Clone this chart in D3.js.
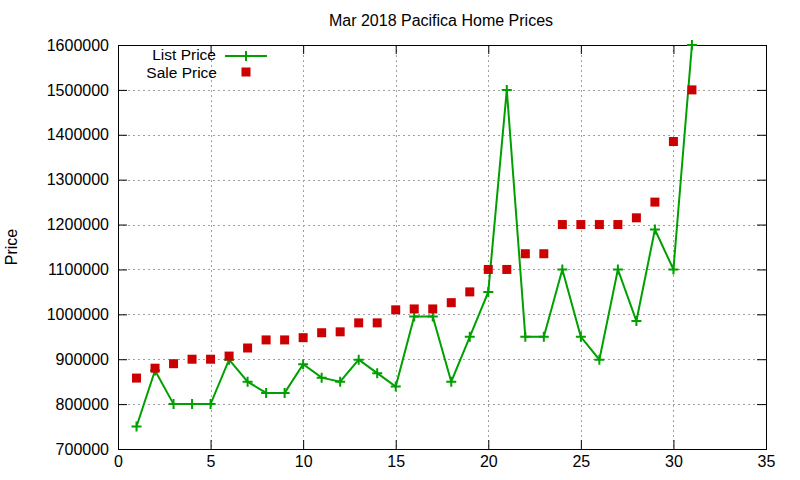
<!DOCTYPE html>
<html><head><meta charset="utf-8">
<script src="https://cdn.jsdelivr.net/npm/d3@7"></script>
<style>body{margin:0;background:#fff}svg text{font-family:"Liberation Sans",Arial,sans-serif;fill:#000}</style>
</head><body><svg id="c" width="800" height="480"></svg>
<script>
const days = [1,2,3,4,5,6,7,8,9,10,11,12,13,14,15,16,17,18,19,20,21,22,23,24,25,26,27,28,29,30,31];
const listPrice = [750000,875000,800000,800000,800000,899000,850000,825000,825000,889000,859000,850000,899000,869000,839000,995000,995000,850000,950000,1050000,1500000,950000,950000,1100000,950000,899000,1100000,985000,1189000,1100000,1600000];
const salePrice = [858000,880000,890000,900000,900000,907000,925000,943000,943000,948000,959000,961000,981000,981000,1010000,1012000,1012000,1026000,1050000,1100000,1100000,1135000,1135000,1200000,1200000,1200000,1200000,1215000,1250000,1385000,1500000];
const xTicks = [0,5,10,15,20,25,30,35];
const yTicks = [700000,800000,900000,1000000,1100000,1200000,1300000,1400000,1500000,1600000];

const L=118,R=766,T=45,B=449,FS=16;
const svg=d3.select("#c");
const x=d3.scaleLinear().domain([0,35]).range([L,R]);
const y=d3.scaleLinear().domain([700000,1600000]).range([B,T]);
const green="#00a000", red="#cc0000", grid="#a0a0a0";

// grid
svg.append("g").selectAll("line").data(xTicks.slice(1,-1)).join("line")
  .attr("x1",d=>Math.round(x(d))+0.5).attr("x2",d=>Math.round(x(d))+0.5).attr("y1",T).attr("y2",B)
  .attr("stroke",grid).attr("stroke-dasharray","2,3");
svg.append("g").selectAll("line").data(yTicks.slice(1,-1)).join("line")
  .attr("x1",L).attr("x2",R).attr("y1",d=>Math.round(y(d))+0.5).attr("y2",d=>Math.round(y(d))+0.5)
  .attr("stroke",grid).attr("stroke-dasharray","2,3");

// axes
const ax=svg.append("g").attr("transform",`translate(0,${B})`)
  .call(d3.axisBottom(x).tickValues(xTicks).tickSize(-9).tickPadding(7).tickFormat(d3.format("d")));
const ay=svg.append("g").attr("transform",`translate(${L},0)`)
  .call(d3.axisLeft(y).tickValues(yTicks).tickSize(-9).tickPadding(9).tickFormat(d3.format("d")));
const axT=svg.append("g").attr("transform",`translate(0,${T})`)
  .call(d3.axisTop(x).tickValues(xTicks).tickSize(-9).tickFormat(""));
const ayR=svg.append("g").attr("transform",`translate(${R},0)`)
  .call(d3.axisRight(y).tickValues(yTicks).tickSize(-9).tickFormat(""));
[ax,ay,axT,ayR].forEach(g=>{g.select(".domain").remove();g.selectAll("line").attr("stroke","#000");g.selectAll("text").attr("font-size",FS).attr("font-family","Liberation Sans, Arial, sans-serif").attr("fill","#000");});
svg.append("rect").attr("x",L+0.5).attr("y",T+0.5).attr("width",R-L).attr("height",B-T)
  .attr("fill","none").attr("stroke","#000");

// title & label
svg.append("text").attr("x",441).attr("y",26).attr("text-anchor","middle").attr("font-size",FS).text("Mar 2018 Pacifica Home Prices");
svg.append("text").attr("transform","translate(17,247) rotate(-90)").attr("text-anchor","middle").attr("font-size",FS).text("Price");

// line
const line=d3.line().x((d,i)=>x(days[i])).y(d=>y(d));
svg.append("path").datum(listPrice).attr("d",line).attr("fill","none").attr("stroke",green).attr("stroke-width",2);
const plus=(g,cx,cy)=>{g.append("path").attr("d",`M${cx-5},${cy}H${cx+5}M${cx},${cy-5}V${cy+5}`).attr("stroke",green).attr("stroke-width",2);};
const pg=svg.append("g");
listPrice.forEach((v,i)=>plus(pg,x(days[i]),y(v)));
svg.append("g").selectAll("rect").data(salePrice).join("rect")
  .attr("x",(d,i)=>x(days[i])-4.5).attr("y",d=>y(d)-4.5).attr("width",9).attr("height",9).attr("fill",red);

// legend
svg.append("text").attr("x",216).attr("y",59.5).attr("text-anchor","end").attr("font-size",15.5).text("List Price");
svg.append("line").attr("x1",225).attr("x2",267).attr("y1",56).attr("y2",56).attr("stroke",green).attr("stroke-width",2);
plus(svg,246,56);
svg.append("text").attr("x",217).attr("y",77.5).attr("text-anchor","end").attr("font-size",15.5).text("Sale Price");
svg.append("rect").attr("x",241.5).attr("y",67.5).attr("width",9).attr("height",9).attr("fill",red);
</script></body></html>
